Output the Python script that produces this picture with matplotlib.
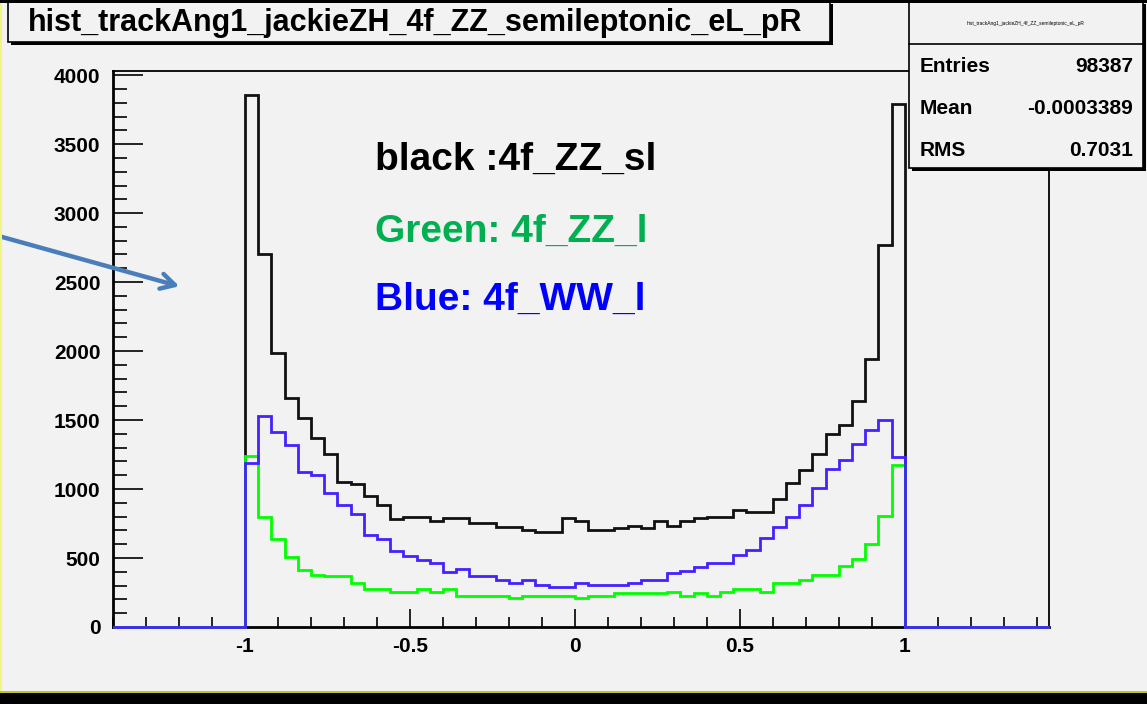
import numpy as np
import matplotlib
matplotlib.use("Agg")
import matplotlib.pyplot as plt
from matplotlib.patches import Rectangle
from matplotlib.ticker import MultipleLocator

# bin contents, 50 bins from -1 to 1
black_zz_sl = [3854, 2707, 1987, 1658, 1515, 1373, 1256, 1049, 1036, 950,
               886, 782, 798, 799, 770, 787, 787, 751, 751, 722,
               722, 703, 686, 686, 787, 770, 703, 703, 720, 734,
               720, 770, 734, 770, 787, 799, 799, 847, 831, 831,
               927, 1041, 1137, 1256, 1399, 1463, 1639, 1943, 2771, 3789]
green_zz_l = [1243, 798, 635, 510, 414, 376, 368, 368, 316, 272,
              272, 251, 256, 273, 256, 273, 225, 225, 225, 225,
              208, 225, 225, 225, 225, 208, 225, 225, 244, 244,
              244, 244, 256, 225, 244, 225, 256, 273, 273, 256,
              321, 321, 340, 376, 376, 440, 492, 601, 808, 1173]
blue_ww_l = [1191, 1528, 1417, 1321, 1127, 1101, 971, 881, 816, 666,
             635, 549, 511, 485, 466, 401, 418, 369, 369, 340,
             321, 340, 304, 287, 287, 321, 304, 304, 304, 321,
             340, 340, 389, 403, 437, 466, 466, 521, 558, 642,
             727, 799, 884, 1010, 1147, 1212, 1326, 1430, 1497, 1230]
hist_lo, hist_hi, n_bins = -1.0, 1.0, 50
x_range = (-1.4, 1.437)
y_range = (0, 4030)

title = "hist_trackAng1_jackieZH_4f_ZZ_semileptonic_eL_pR"
stats_labels = ["Entries", "Mean", "RMS"]
stats_values = ["98387", "-0.0003389", "0.7031"]
notes = ["black :4f_ZZ_sl", "Green: 4f_ZZ_l", "Blue: 4f_WW_l"]
note_colors = ["black", "#00b050", "#0000ff"]

W, H = 1147, 704
BG = "#f2f2f2"


def fx(x):
    return x / W


def fy(y):
    # y measured from the top in pixels
    return 1 - y / H


def box(fig, x0, y0, x1, y1, shadow=3):
    fig.patches.append(Rectangle((fx(x0 + shadow), fy(y1 + shadow)), fx(x1 - x0), (y1 - y0) / H,
                                 transform=fig.transFigure, facecolor="black", edgecolor="none", zorder=5))
    fig.patches.append(Rectangle((fx(x0), fy(y1)), fx(x1 - x0), (y1 - y0) / H,
                                 transform=fig.transFigure, facecolor=BG, edgecolor="black", lw=1.2, zorder=6))


def main():
    plt.rcParams["font.family"] = ["Liberation Sans", "DejaVu Sans"]
    fig = plt.figure(figsize=(W / 100, H / 100), dpi=100, facecolor=BG)

    left, right, top, bottom = 113, 1049, 71, 627
    ax = fig.add_axes([fx(left), fy(bottom), fx(right - left), (bottom - top) / H])
    ax.set_facecolor(BG)

    edges = np.concatenate([[x_range[0]], np.linspace(hist_lo, hist_hi, n_bins + 1), [x_range[1]]])
    for vals, col, z in [(black_zz_sl, "#111111", 3), (green_zz_l, "#00ff00", 4), (blue_ww_l, "#4422ff", 5)]:
        v = np.concatenate([[0], vals, [0]])
        ax.stairs(v, edges, color=col, lw=2, zorder=z, clip_on=False)

    ax.set_xlim(*x_range)
    ax.set_ylim(*y_range)
    for s in ax.spines.values():
        s.set_linewidth(1.3)
        s.set_zorder(2)
    ax.spines["left"].set_linewidth(2)
    ax.spines["bottom"].set_linewidth(2)

    ax.xaxis.set_major_locator(MultipleLocator(0.5))
    ax.xaxis.set_minor_locator(MultipleLocator(0.1))
    ax.yaxis.set_major_locator(MultipleLocator(500))
    ax.yaxis.set_minor_locator(MultipleLocator(100))
    ax.tick_params(axis="x", which="major", direction="in", length=13, width=1.2, pad=7, labelsize=15)
    ax.tick_params(axis="x", which="minor", direction="in", length=7, width=1.2)
    ax.tick_params(axis="y", which="major", direction="in", length=21.5, width=1.2, pad=9, labelsize=15)
    ax.tick_params(axis="y", which="minor", direction="in", length=10, width=1.2)
    ax.set_xticks([-1, -0.5, 0, 0.5, 1])
    ax.set_xticklabels(["-1", "-0.5", "0", "0.5", "1"])
    for lab in ax.get_xticklabels() + ax.get_yticklabels():
        lab.set_fontweight("bold")

    # legend-like notes drawn as plain text
    for txt, col, yy in zip(notes, note_colors, [160, 232, 300]):
        fig.text(fx(375), fy(yy), txt, color=col, fontsize=28, fontweight="bold", va="center", ha="left", zorder=10)

    # arrow coming in from the left edge
    ax.annotate("", xy=(182, H - 287), xycoords="figure pixels", xytext=(-5, H - 235), textcoords="figure pixels",
                arrowprops=dict(arrowstyle="->,head_length=1.0,head_width=0.55", color="#4a7ebb", lw=3.2),
                annotation_clip=False)

    # title box
    box(fig, 8, 1, 830, 42)
    fig.text(fx(28), fy(23), title, fontsize=22, fontweight="bold", va="center", ha="left", zorder=10)

    # stats box
    box(fig, 909, 1, 1143, 168)
    fig.lines.append(plt.Line2D([fx(909), fx(1143)], [fy(44), fy(44)], transform=fig.transFigure,
                                color="black", lw=1.2, zorder=7))
    fig.text(fx(1026), fy(24), title, fontsize=3.5, va="center", ha="center", zorder=10)
    for lab, val, yy in zip(stats_labels, stats_values, [67, 108, 150]):
        fig.text(fx(920), fy(yy), lab, fontsize=15, fontweight="bold", va="center", ha="left", zorder=10)
        fig.text(fx(1133), fy(yy), val, fontsize=15, fontweight="bold", va="center", ha="right", zorder=10)

    # screen borders
    fig.patches.append(Rectangle((0, fy(2.5)), 1, 2.5 / H, transform=fig.transFigure,
                                 facecolor="black", edgecolor="none", zorder=20))
    fig.patches.append(Rectangle((0, 0), 1, 11 / H, transform=fig.transFigure,
                                 facecolor="black", edgecolor="none", zorder=20))
    fig.patches.append(Rectangle((0, 11 / H), 1, 2.5 / H, transform=fig.transFigure,
                                 facecolor="#c4c41c", edgecolor="none", zorder=20))
    fig.patches.append(Rectangle((0, 0), 1.5 / W, 1, transform=fig.transFigure,
                                 facecolor="#f4f480", edgecolor="none", zorder=19))

    fig.savefig("out.png", dpi=100, facecolor=BG)
    plt.close(fig)


if __name__ == "__main__":
    main()
